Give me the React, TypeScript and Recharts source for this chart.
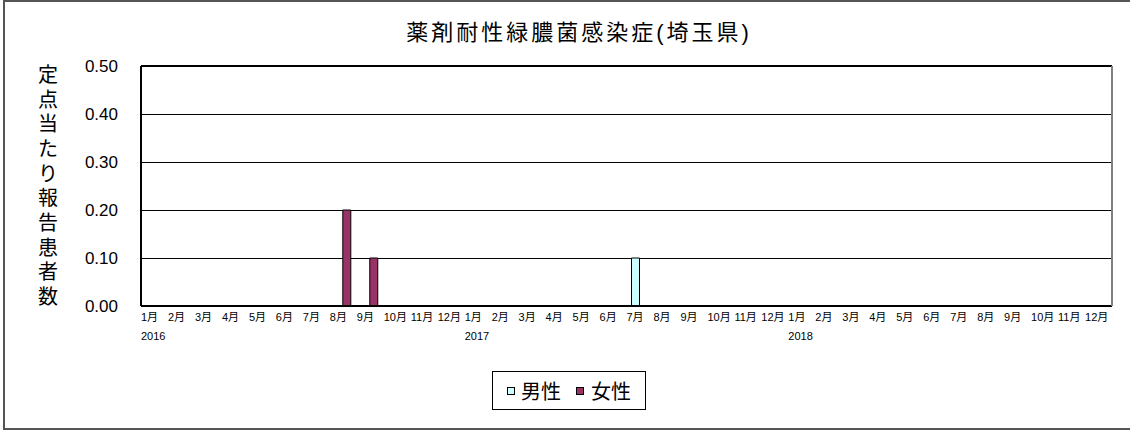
import React from "react";
import { BarChart, Bar, XAxis, YAxis, CartesianGrid, Legend, ReferenceLine } from "recharts";

const months = [
  "1月", "2月", "3月", "4月", "5月", "6月", "7月", "8月", "9月", "10月", "11月", "12月",
  "1月", "2月", "3月", "4月", "5月", "6月", "7月", "8月", "9月", "10月", "11月", "12月",
  "1月", "2月", "3月", "4月", "5月", "6月", "7月", "8月", "9月", "10月", "11月", "12月",
];
const years = ["2016", "2017", "2018"];

// 定点当たり報告患者数
const male = [
  0, 0, 0, 0, 0, 0, 0, 0, 0, 0, 0, 0,
  0, 0, 0, 0, 0, 0, 0.1, 0, 0, 0, 0, 0,
  0, 0, 0, 0, 0, 0, 0, 0, 0, 0, 0, 0,
];
const female = [
  0, 0, 0, 0, 0, 0, 0, 0.2, 0.1, 0, 0, 0,
  0, 0, 0, 0, 0, 0, 0, 0, 0, 0, 0, 0,
  0, 0, 0, 0, 0, 0, 0, 0, 0, 0, 0, 0,
];
const yTicks = [0, 0.1, 0.2, 0.3, 0.4, 0.5];
const yTitle = "定点当たり報告患者数";
const title = "薬剤耐性緑膿菌感染症(埼玉県)";

const MALE_COLOR = "#CCFFFF";
const FEMALE_COLOR = "#993366";

const data = months.map((m, i) => ({
  key: `${years[Math.floor(i / 12)]}-${m}`,
  month: m,
  year: i % 12 === 0 ? years[i / 12] : "",
  male: male[i],
  female: female[i],
}));

const FONT = "'Liberation Sans', Arial, 'Noto Sans CJK JP', sans-serif";
const PLOT_LEFT = 141;
const PLOT_RIGHT = 1112;
const BAND = (PLOT_RIGHT - PLOT_LEFT) / months.length;

const MonthTick = (props: any) => {
  const { x, y, index } = props;
  const left = x - BAND / 2;
  const d = data[index];
  return (
    <g>
      <text x={left} y={y + 13} fontSize={11} fill="#000" fontFamily={FONT} textAnchor="start">
        {d.month}
      </text>
      {d.year && (
        <text x={left} y={y + 32} fontSize={11} fill="#000" fontFamily={FONT} textAnchor="start">
          {d.year}
        </text>
      )}
    </g>
  );
};

const YTitle = (props: any) => {
  const vb = props.viewBox || {};
  const cy = (vb.y ?? 66) + (vb.height ?? 240) / 2;
  const step = 24.7;
  const start = cy - (step * (yTitle.length - 1)) / 2;
  return (
    <g>
      {yTitle.split("").map((c, i) => (
        <text
          key={i}
          x={48}
          y={start + i * step}
          dy="0.35em"
          textAnchor="middle"
          fontSize={20}
          fill="#000"
          fontFamily={FONT}
        >
          {c}
        </text>
      ))}
    </g>
  );
};

const Swatch = ({ color, ml }: { color: string; ml: number }) => (
  <svg width={8} height={8} style={{ marginLeft: ml, flexShrink: 0, display: "block" }}>
    <rect x={0.5} y={0.5} width={7} height={7} fill={color} stroke="#000" strokeWidth={1} />
  </svg>
);

const LegendBox = () => (
  <div
    style={{
      border: "1px solid #000",
      width: 152,
      height: 37,
      display: "flex",
      alignItems: "center",
      fontFamily: FONT,
      fontSize: 20,
      color: "#000",
      background: "#fff",
      boxSizing: "content-box",
    }}
  >
    <Swatch color={MALE_COLOR} ml={14} />
    <span style={{ marginLeft: 6 }}>男性</span>
    <Swatch color={FEMALE_COLOR} ml={15} />
    <span style={{ marginLeft: 7 }}>女性</span>
  </div>
);

export default function App() {
  return (
    <div style={{ position: "absolute", left: 0, top: 0, width: 1130, height: 430, background: "#fff", overflow: "hidden" }}>
      <style>{".recharts-cartesian-grid line, .recharts-cartesian-axis-line, .recharts-reference-line line { shape-rendering: crispEdges; }"}</style>
      <div
        style={{
          position: "absolute",
          left: 3,
          top: 0,
          width: 1150,
          height: 426,
          border: "2px solid #555",
        }}
      />
      <div
        style={{
          position: "absolute",
          left: 0,
          top: 14,
          width: 1158,
          textAlign: "center",
          fontFamily: FONT,
          fontSize: 22,
          letterSpacing: 3,
          color: "#000",
        }}
      >
        {title}
      </div>
      <div style={{ position: "absolute", left: 0, top: 0 }}>
        <BarChart
          width={1130}
          height={430}
          data={data}
          margin={{ top: 66, right: 0, bottom: 0, left: 0 }}
          barGap={0}
          barSize={8}
        >
          <CartesianGrid yAxisId="left" horizontal vertical={false} stroke="#000" strokeOpacity={1} />
          <XAxis
            dataKey="key"
            interval={0}
            height={124}
            tickLine={false}
            tickSize={0}
            axisLine={{ stroke: "#000", strokeWidth: 2 }}
            tick={<MonthTick />}
          />
          <YAxis
            yAxisId="left"
            width={PLOT_LEFT}
            domain={[0, 0.5]}
            ticks={yTicks}
            tickFormatter={(v: number) => v.toFixed(2)}
            tickLine={false}
            tickSize={0}
            tickMargin={23}
            axisLine={{ stroke: "#000", strokeWidth: 2 }}
            tick={{ fontSize: 17, fill: "#000", fontFamily: FONT }}
            label={{ content: <YTitle /> }}
          />
          <YAxis
            yAxisId="right"
            orientation="right"
            width={1130 - PLOT_RIGHT}
            domain={[0, 0.5]}
            tick={false}
            tickLine={false}
            axisLine={{ stroke: "#808080", strokeWidth: 2 }}
          />
          <ReferenceLine yAxisId="left" y={0.5} stroke="#000" strokeWidth={2} />
          <Bar yAxisId="left" dataKey="male" name="男性" fill={MALE_COLOR} stroke="#000" strokeWidth={1} isAnimationActive={false} />
          <Bar yAxisId="left" dataKey="female" name="女性" fill={FEMALE_COLOR} stroke="#000" strokeWidth={1} isAnimationActive={false} />
          <Legend
            layout="horizontal"
            verticalAlign="middle"
            align="center"
            content={<LegendBox />}
            wrapperStyle={{ top: 371, left: 492, width: "auto" }}
          />
        </BarChart>
      </div>
    </div>
  );
}
